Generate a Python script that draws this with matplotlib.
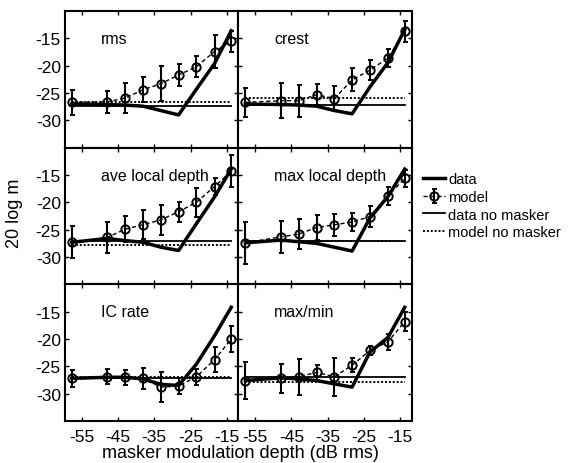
import matplotlib
matplotlib.use("Agg")
import matplotlib.pyplot as plt
import numpy as np

# masker modulation depth (dB rms)
depth = [-57.7, -47.9, -43.0, -38.1, -33.2, -28.3, -23.4, -18.4, -13.8]

titles = ["rms", "crest", "ave local depth", "max local depth", "IC rate", "max/min"]

# thick line: data with masker
data_rms = [-27.0, -27.1, -27.2, -27.4, -28.2, -29.0, -24.3, -19.6, -13.6]
data_crest = [-27.0, -27.1, -27.2, -27.4, -28.2, -28.8, -23.9, -19.4, -13.4]
data_ave = [-27.3, -26.6, -27.0, -27.3, -28.2, -28.8, -23.9, -19.0, -13.9]
data_max = [-27.4, -26.9, -27.2, -27.5, -28.2, -28.9, -22.9, -18.9, -13.9]
data_ic = [-27.2, -27.0, -27.0, -27.3, -28.3, -28.5, -24.6, -19.4, -14.2]
data_mm = [-27.6, -27.1, -27.3, -27.6, -28.2, -28.8, -22.4, -19.7, -14.2]

# model with masker (circles) and its error bars
model_rms = [-26.7, -26.6, -25.9, -24.4, -23.3, -21.7, -20.2, -17.4, -15.5]
err_rms = [2.3, 2.0, 2.7, 2.3, 3.2, 2.0, 1.9, 3.0, 1.9]
model_crest = [-26.7, -26.4, -26.4, -25.3, -26.0, -22.6, -20.8, -18.6, -13.7]
err_crest = [2.65, 3.2, 2.95, 1.9, 2.2, 2.1, 1.9, 1.6, 1.9]
model_ave = [-27.3, -26.4, -24.9, -24.1, -23.2, -21.7, -20.0, -17.1, -14.3]
err_ave = [2.9, 2.8, 2.35, 2.65, 2.7, 1.8, 2.6, 1.6, 2.95]
model_max = [-27.4, -26.3, -25.8, -24.6, -24.1, -23.6, -22.6, -18.8, -15.6]
err_max = [3.8, 2.9, 2.7, 2.35, 2.0, 1.7, 1.9, 1.7, 1.5]
model_ic = [-27.2, -26.9, -27.0, -27.2, -28.8, -28.6, -26.9, -23.8, -20.0]
err_ic = [1.6, 1.4, 1.4, 1.9, 2.7, 1.4, 1.45, 2.3, 2.4]
model_mm = [-27.6, -27.2, -26.9, -26.1, -26.9, -24.8, -22.1, -20.5, -16.8]
err_mm = [3.35, 2.6, 3.3, 1.35, 3.5, 1.3, 0.8, 1.5, 1.8]

# no masker levels
data_nomask = [-27.3, -27.2, -27.0, -27.1, -27.1, -27.0]
model_nomask = [-26.7, -25.9, -27.8, -27.1, -26.9, -27.8]

data_all = [data_rms, data_crest, data_ave, data_max, data_ic, data_mm]
model_all = [model_rms, model_crest, model_ave, model_max, model_ic, model_mm]
err_all = [err_rms, err_crest, err_ave, err_max, err_ic, err_mm]

plt.rcParams['font.family'] = ['Liberation Sans', 'DejaVu Sans']
plt.rcParams['font.size'] = 12.5
plt.rcParams['axes.unicode_minus'] = False

fig, axes = plt.subplots(3, 2, figsize=(5.73, 4.64), dpi=100, sharex=True, sharey=True)
plt.subplots_adjust(left=0.1134, right=0.719, top=0.974, bottom=0.0905, wspace=0, hspace=0)

for i, ax in enumerate(axes.flat):
    x = np.array(depth)
    ax.plot([x[0], x[-1]], [data_nomask[i]] * 2, color='k', lw=1.3, label='data no masker')
    ax.plot([x[0], x[-1]], [model_nomask[i]] * 2, color='k', lw=1.4, ls=(0, (1, 1)), label='model no masker')
    ax.plot(x, data_all[i], color='k', lw=2.5, label='data')
    ax.errorbar(x, model_all[i], yerr=err_all[i], fmt='o', ls=(0, (3, 2)), lw=1.0,
                color='k', mfc='none', ms=6, mew=1.4, elinewidth=1.5, capsize=1.8,
                label='model')
    ax.text(0.205, 0.766, titles[i], transform=ax.transAxes, fontsize=11.5, va='baseline')

    ax.set_xlim(-59.6, -11.8)
    ax.set_ylim(-35, -10)
    ax.set_xticks([-55, -45, -35, -25, -15])
    ax.set_yticks([-15, -20, -25, -30])
    ax.tick_params(direction='in', top=True, right=True, length=3, width=1)
    ax.tick_params(axis='x', pad=5.5)
    ax.tick_params(axis='y', pad=3)
    for sp in ax.spines.values():
        sp.set_linewidth(1.5)

handles, labels = axes[0, 0].get_legend_handles_labels()
order = [2, 3, 0, 1]
fig.legend([handles[k] for k in order], [labels[k] for k in order],
           loc='upper left', bbox_to_anchor=(0.7377, 0.6265), frameon=False,
           fontsize=10.5, borderpad=0, borderaxespad=0, handlelength=1.53,
           handletextpad=0.23, labelspacing=0.25)

fig.text(0.026, 0.54, '20 log m', rotation=90, ha='center', va='center', fontsize=13)
fig.text(0.419, 0.013, 'masker modulation depth (dB rms)', ha='center', va='baseline', fontsize=13)

plt.savefig("out.png", dpi=100)
